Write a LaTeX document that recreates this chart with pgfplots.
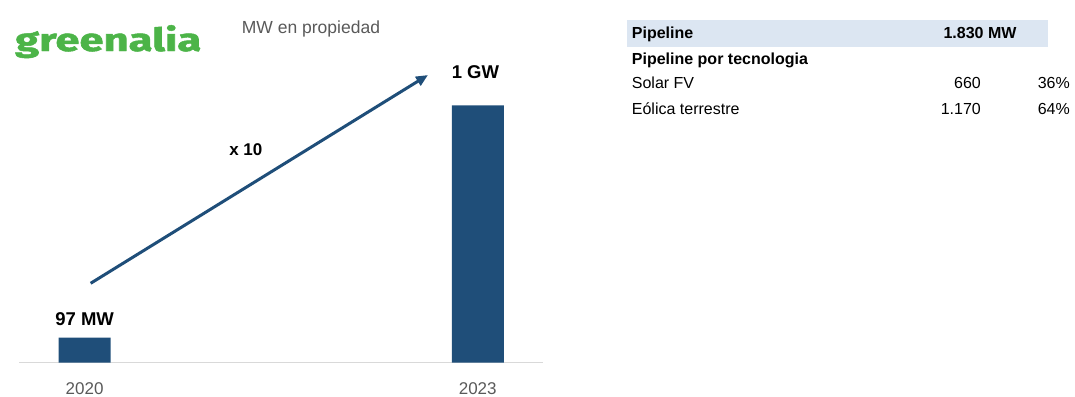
\documentclass[border=0pt]{standalone}
\usepackage{pgfplots}
\pgfplotsset{compat=1.18}
\usepackage{fontspec}
\usetikzlibrary{arrows.meta}
\setmainfont{Liberation Sans}
\newfontfamily\logofont[FakeBold=1.5]{Fira Sans}
\definecolor{barblue}{HTML}{1F4E79}
\definecolor{logogreen}{HTML}{4CB448}
\definecolor{txtgray}{HTML}{595959}
\definecolor{axgray}{HTML}{D9D9D9}
\definecolor{bandblue}{HTML}{DCE6F2}
\begin{document}
\begin{tikzpicture}[x=1pt,y=1pt]
\useasboundingbox (0,0) rectangle (1075,396);
% logo and subtitle
\node[anchor=south west, inner sep=0pt, text=logogreen] at (15,337.7)
  {\resizebox*{186pt}{33pt}{\logofont\bfseries greenalia}};
\node[anchor=base west, inner sep=0pt, text=txtgray] at (241.7,362.7)
  {\fontsize{17.5}{20}\selectfont MW en propiedad};
% table
\fill[bandblue] (627.3,349.3) rectangle (1048,376);
\begin{scope}[every node/.style={inner sep=0pt}]
\node[anchor=base west] at (631.7,357) {\fontsize{16}{19}\selectfont\bfseries Pipeline};
\node[anchor=base east] at (1016.7,357) {\fontsize{16}{19}\selectfont\bfseries 1.830 MW};
\node[anchor=base west] at (631.7,331.7) {\fontsize{16}{19}\selectfont\bfseries Pipeline por tecnologia};
\node[anchor=base west] at (631.7,307) {\fontsize{16}{19}\selectfont Solar FV};
\node[anchor=base east] at (981,307) {\fontsize{16}{19}\selectfont 660};
\node[anchor=base east] at (1070,307) {\fontsize{16}{19}\selectfont 36\%};
\node[anchor=base west] at (631.7,281) {\fontsize{16}{19}\selectfont Eólica terrestre};
\node[anchor=base east] at (981,281) {\fontsize{16}{19}\selectfont 1.170};
\node[anchor=base east] at (1070,281) {\fontsize{16}{19}\selectfont 64\%};
\end{scope}
% chart
\begin{axis}[
  at={(19pt,33.3pt)}, anchor=south west,
  scale only axis, width=524pt, height=321.75pt,
  xmin=-0.167, xmax=1.166, ymin=0, ymax=1250,
  axis x line*=bottom, hide y axis,
  x axis line style={draw=axgray, line width=1pt, -},
  xtick={0,1}, xticklabels={2020,2023},
  major tick length=0pt,
  xticklabel style={anchor=base, yshift=-31.3pt, text=txtgray, font=\fontsize{17}{20}\selectfont},
  clip=false,
]
\addplot[ybar, bar width=52pt, fill=barblue, draw=none] coordinates {(0,97) (1,1000)};
\draw[barblue, line width=3pt, -{Triangle[length=12pt,width=10pt]}]
  (axis cs:0.0153,308.5) -- (axis cs:0.8735,1117.7);
\node[anchor=base, inner sep=0pt] at (axis cs:0,142.6) {\fontsize{18.5}{22}\selectfont\bfseries 97 MW};
\node[anchor=base, inner sep=0pt] at (axis cs:0.994,1104.9) {\fontsize{18.5}{22}\selectfont\bfseries 1 GW};
\node[anchor=base, inner sep=0pt] at (axis cs:0.41,804.2) {\fontsize{17}{20}\selectfont\bfseries x 10};
\end{axis}
\end{tikzpicture}
\end{document}
